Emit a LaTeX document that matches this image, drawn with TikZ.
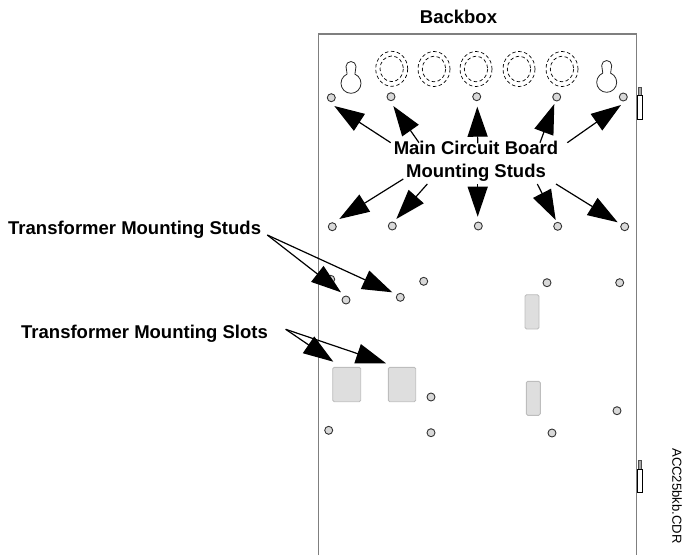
\documentclass[tikz,border=0pt]{standalone}
\usepackage{fontspec}
\setmainfont{Liberation Sans}
\usetikzlibrary{arrows.meta}
\definecolor{boxgray}{HTML}{7F7F7F}
\definecolor{studfill}{HTML}{D9D9D9}
\definecolor{slotfill}{HTML}{DEDEDE}
\definecolor{slotline}{HTML}{BDBDBD}
\tikzset{
  x=1pt,y=-1pt,
  lbl/.style={font=\fontsize{18.5}{23}\selectfont\bfseries,inner sep=0pt,align=center,text=black},
  ptr/.style={draw=black,line width=1.2pt,-{Triangle[length=30pt,width=20pt]}},
  stud/.style={circle,draw=black!80,fill=studfill,line width=0.9pt,minimum size=8pt,inner sep=0pt},
  ko/.style={draw=black,line width=0.7pt,dash pattern=on 3.5pt off 2.5pt},
  slot/.style={draw=slotline,fill=slotfill,line width=0.9pt,rounded corners=1.5pt},
  key/.style={draw=black!85,line width=0.8pt},
  hinge/.style={draw=black,fill=white,line width=0.8pt},
  hingetop/.style={draw=black!70,fill=black!35,line width=0.7pt}
}
\begin{document}
\begin{tikzpicture}
\useasboundingbox (0,0) rectangle (683,555);
% backbox
\draw[boxgray,line width=1.5pt] (318.7,555) -- (318.7,34) -- (636.7,34) -- (636.7,555);
% hinges
\draw[hingetop] (638.6,87) rectangle (641,95);
\draw[hinge] (637.3,95) rectangle (642.7,119);
\draw[hingetop] (638.6,460) rectangle (641,469);
\draw[hinge] (637,469) rectangle (642.7,492.3);
% keyholes
\foreach \cx/\cy in {351/83.3,606.7/82.3}{
  \draw[key] ({\cx-3.9},{\cy-9.2}) -- ({\cx-5},{\cy-16.8})
     arc[start angle=180,end angle=360,radius=5] -- ({\cx+3.9},{\cy-9.2})
     arc[start angle=-67,end angle=247,radius=10];
}
% knockouts
\foreach \cx/\cy in {391.7/68.8,434/69,476/69,519/69,562/69}{
  \draw[ko] (\cx,\cy) ellipse[x radius=16,y radius=17.5];
  \draw[ko] (\cx,\cy) ellipse[x radius=11.7,y radius=12.8];
}
% slots
\draw[slot] (332.7,367.3) rectangle (360.7,401.7);
\draw[slot] (388.3,367.3) rectangle (415.7,401.7);
\draw[slot] (525,294.7) rectangle (539,329);
\draw[slot] (526.3,381.3) rectangle (540.3,415.3);
% studs
\node[stud] (s1) at (331.3,97.7) {};
\node[stud] (s2) at (391,96.7) {};
\node[stud] (s3) at (476.7,96.7) {};
\node[stud] (s4) at (556.7,97) {};
\node[stud] (s5) at (623.3,97) {};
\node[stud] (s6) at (332.3,226.7) {};
\node[stud] (s7) at (392.3,226) {};
\node[stud] (s8) at (478.3,226) {};
\node[stud] (s9) at (557.7,226.3) {};
\node[stud] (s10) at (624.7,226.7) {};
\node[stud] (s11) at (330.7,279.3) {};
\node[stud] (s12) at (423.7,281.3) {};
\node[stud] (s13) at (346,300) {};
\node[stud] (s14) at (400.3,297.3) {};
\node[stud] (s15) at (547,282.7) {};
\node[stud] (s16) at (619.7,282.7) {};
\node[stud] (s17) at (431,397) {};
\node[stud] (s18) at (431,432.7) {};
\node[stud] (s19) at (328.7,430.3) {};
\node[stud] (s20) at (617,410.7) {};
\node[stud] (s21) at (552,433) {};
% labels
\node[lbl] (bb) at (458.5,17) {Backbox};
\node[lbl] (mcb) at (476,161) {Main Circuit Board\\Mounting Studs};
\node[lbl,anchor=west] (tms) at (8,230) {Transformer Mounting Studs};
\node[lbl,anchor=west] (tsl) at (21,334) {Transformer Mounting Slots};
\node[font=\fontsize{13.1}{15}\selectfont,inner sep=0pt,rotate=-90] (code) at (677,496) {ACC25bkb.CDR};
% connector ends
\foreach \n/\px/\py in {a1/390.7/142.7,a2/419/142.7,a3/477.7/143.3,a4/540/142.7,a5/567.3/142.7,
  a6/403.3/179,a7/427.3/184,a8/477.7/184,a9/537.3/184,a10/556/184,
  b1/334.3/106,b2/393.3/106,b3/477.3/106.7,b4/554.3/104,b5/621/105,
  b6/339.3/219,b7/396.3/219,b8/477.7/216.7,b9/555.7/220,b10/617.7/222.3,
  c1/267.3/235,d1/341/292.3,d2/392.3/292.3,c2/285.7/329.3,e1/333.3/361.7,e2/386/363.3}
  {\coordinate (\n) at (\px,\py);}
\foreach \i in {1,...,10}{\draw[ptr] (a\i) -- (b\i);}
\draw[ptr] (c1) -- (d1);
\draw[ptr] (c1) -- (d2);
\draw[ptr] (c2) -- (e1);
\draw[ptr] (c2) -- (e2);
\end{tikzpicture}
\end{document}
